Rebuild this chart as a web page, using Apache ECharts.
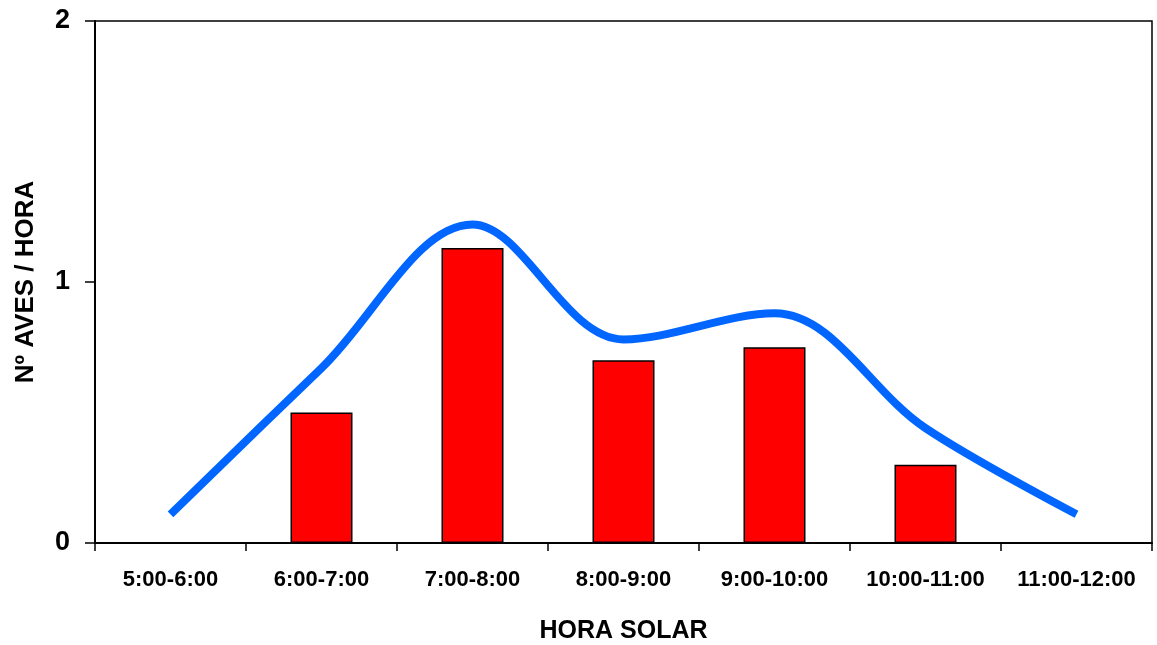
<!DOCTYPE html>
<html>
<head>
<meta charset="utf-8">
<style>
  html, body { margin: 0; padding: 0; background: #fff; }
  #chart { width: 1157px; height: 645px; }
</style>
<script src="https://cdn.jsdelivr.net/npm/echarts@6/dist/echarts.min.js"></script>
</head>
<body>
<div id="chart"></div>
<script>
// Hourly bird counts by solar hour
const categories = ['5:00-6:00', '6:00-7:00', '7:00-8:00', '8:00-9:00', '9:00-10:00', '10:00-11:00', '11:00-12:00'];
const barValues = [null, 0.5, 1.13, 0.7, 0.75, 0.3, null];
const trendValues = [0.11, 0.67, 1.22, 0.78, 0.88, 0.44, 0.11];
const yTicks = [0, 1, 2];

const FONT = '"Liberation Sans", Arial, sans-serif';

const chart = echarts.init(document.getElementById('chart'), null, { renderer: 'canvas' });
chart.setOption({
  animation: false,
  backgroundColor: '#ffffff',
  grid: {
    left: 95, right: 5, top: 21, bottom: 102,
    outerBoundsMode: 'none',
    containLabel: false,
    show: true, borderColor: '#000', borderWidth: 1.5, backgroundColor: 'transparent'
  },
  xAxis: {
    type: 'category',
    data: categories,
    boundaryGap: true,
    name: 'HORA SOLAR',
    nameLocation: 'middle',
    nameGap: 76,
    nameTextStyle: { fontFamily: FONT, fontWeight: 'bold', fontSize: 25, color: '#000' },
    axisLine: { lineStyle: { color: '#000', width: 2 } },
    axisTick: { show: true, interval: 0, length: 8, lineStyle: { color: '#000', width: 1.5 } },
    axisLabel: { interval: 0, margin: 26, fontFamily: FONT, fontWeight: 'bold', fontSize: 22, color: '#000' },
    splitLine: { show: false }
  },
  yAxis: {
    type: 'value',
    min: yTicks[0],
    max: yTicks[yTicks.length - 1],
    interval: 1,
    name: 'Nº AVES / HORA',
    nameLocation: 'middle',
    nameGap: 56,
    nameTextStyle: { fontFamily: FONT, fontWeight: 'bold', fontSize: 26, color: '#000' },
    axisLine: { show: true, lineStyle: { color: '#000', width: 2 } },
    axisTick: { show: true, length: 10, lineStyle: { color: '#000', width: 1.5 } },
    axisLabel: { margin: 25, fontFamily: FONT, fontWeight: 'bold', fontSize: 27, color: '#000' },
    splitLine: { show: false }
  },
  series: [
    {
      type: 'bar',
      data: barValues,
      barWidth: 62,
      itemStyle: { color: '#ff0000', borderColor: '#000', borderWidth: 1.5 },
      z: 2
    },
    {
      type: 'line',
      data: trendValues,
      smooth: 0.35,
      symbol: 'none',
      lineStyle: { color: '#0066ff', width: 8, cap: 'butt' },
      z: 3
    }
  ]
});
</script>
</body>
</html>
